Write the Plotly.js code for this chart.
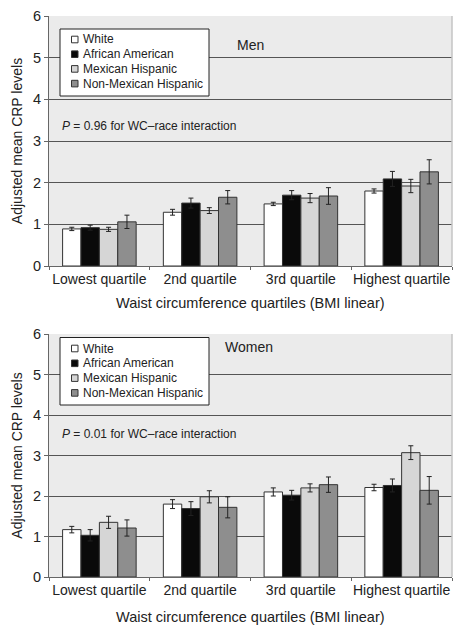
<!DOCTYPE html>
<html>
<head>
<meta charset="utf-8">
<script src="https://cdn.plot.ly/plotly-3.0.1.min.js"></script>
<style>html,body{margin:0;padding:0;background:#fff;}#chart{width:464px;height:635px;}</style>
</head>
<body>
<div id="chart"></div>
<script>
const categories = ['Lowest quartile', '2nd quartile', '3rd quartile', 'Highest quartile'];
const races = ['White', 'African American', 'Mexican Hispanic', 'Non-Mexican Hispanic'];
const raceColors = ['#ffffff', '#0a0a0a', '#d6d6d6', '#8e8e8e'];

// Men: adjusted mean CRP and error (±)
const menWhite = [0.89, 1.29, 1.49, 1.80];
const menWhiteErr = [0.04, 0.07, 0.04, 0.05];
const menAfrican = [0.92, 1.51, 1.70, 2.09];
const menAfricanErr = [0.06, 0.12, 0.11, 0.18];
const menMexican = [0.88, 1.33, 1.63, 1.92];
const menMexicanErr = [0.05, 0.07, 0.11, 0.16];
const menNonMexican = [1.06, 1.65, 1.68, 2.26];
const menNonMexicanErr = [0.16, 0.16, 0.20, 0.29];

// Women
const womenWhite = [1.17, 1.80, 2.10, 2.21];
const womenWhiteErr = [0.08, 0.11, 0.10, 0.08];
const womenAfrican = [1.03, 1.69, 2.02, 2.26];
const womenAfricanErr = [0.14, 0.17, 0.12, 0.16];
const womenMexican = [1.35, 1.98, 2.20, 3.07];
const womenMexicanErr = [0.15, 0.15, 0.10, 0.17];
const womenNonMexican = [1.21, 1.72, 2.28, 2.14];
const womenNonMexicanErr = [0.20, 0.26, 0.19, 0.34];

const menSeries = [[menWhite, menWhiteErr], [menAfrican, menAfricanErr], [menMexican, menMexicanErr], [menNonMexican, menNonMexicanErr]];
const womenSeries = [[womenWhite, womenWhiteErr], [womenAfrican, womenAfricanErr], [womenMexican, womenMexicanErr], [womenNonMexican, womenNonMexicanErr]];

const FONT = 'Liberation Sans, Arial, Helvetica, sans-serif';
const W = 464, H = 635;
const M = {l: 49, r: 12, t: 16, b: 58};
const PW = W - M.l - M.r, PH = H - M.t - M.b;
const px2x = p => (p - M.l) / PW;
const px2y = p => (H - M.b - p) / PH;

function makeTraces(series, xa, ya) {
  return series.map((s, i) => ({
    type: 'bar',
    name: races[i],
    x: categories,
    y: s[0],
    xaxis: xa,
    yaxis: ya,
    showlegend: false,
    marker: {color: raceColors[i], line: {color: '#333333', width: 1}},
    error_y: {type: 'data', array: s[1], visible: true, color: '#222222', thickness: 1, width: 2.5},
    hoverinfo: 'x+y+name'
  }));
}

const data = makeTraces(menSeries, 'x', 'y').concat(makeTraces(womenSeries, 'x2', 'y2'));

const xCommon = {
  type: 'category',
  tickfont: {family: FONT, size: 14, color: '#222'},
  tickangle: 0,
  showline: true, linecolor: '#666', linewidth: 1,
  ticks: 'outside', ticklen: 3, tickcolor: '#666', tickson: 'boundaries',
  showgrid: false, zeroline: false, fixedrange: true
};
const yCommon = {
  range: [0, 6], dtick: 1, tick0: 0,
  tickfont: {family: FONT, size: 14.5, color: '#222'},
  showline: true, linecolor: '#666', linewidth: 1,
  ticks: 'outside', ticklen: 4, tickcolor: '#666',
  showgrid: true, gridcolor: '#555555', gridwidth: 1,
  zeroline: false, fixedrange: true
};

const yTitle = {text: 'Adjusted mean CRP levels', font: {family: FONT, size: 14, color: '#222'}, standoff: 7};
const xTitleText = 'Waist circumference quartiles (BMI linear)';

// custom legends (pixel layout -> paper coords)
const shapes = [
  {type: 'line', xref: 'paper', yref: 'y domain', x0: 1, x1: 1, y0: 0, y1: 1, line: {color: '#c4c4c4', width: 1.5}},
  {type: 'line', xref: 'paper', yref: 'y2 domain', x0: 1, x1: 1, y0: 0, y1: 1, line: {color: '#c4c4c4', width: 1.5}}
];
const annotations = [
  {text: 'Men', xref: 'paper', yref: 'y', x: px2x(250), y: 5.3, showarrow: false, font: {family: FONT, size: 14, color: '#222'}},
  {text: '<i>P</i> = 0.96 for WC–race interaction', xref: 'paper', yref: 'y', x: px2x(60), y: 3.36, xanchor: 'left', showarrow: false, font: {family: FONT, size: 12, color: '#222'}},
  {text: 'Women', xref: 'paper', yref: 'y2', x: px2x(249), y: 5.69, showarrow: false, font: {family: FONT, size: 14, color: '#222'}},
  {text: '<i>P</i> = 0.01 for WC–race interaction', xref: 'paper', yref: 'y2', x: px2x(60), y: 3.52, xanchor: 'left', showarrow: false, font: {family: FONT, size: 12, color: '#222'}},
  {text: xTitleText, xref: 'paper', yref: 'paper', x: px2x(250), y: px2y(303), yanchor: 'middle', showarrow: false, font: {family: FONT, size: 14.5, color: '#222'}},
  {text: xTitleText, xref: 'paper', yref: 'paper', x: px2x(250), y: px2y(617), yanchor: 'middle', showarrow: false, font: {family: FONT, size: 14.5, color: '#222'}}
];

function addLegend(top, bottom, firstItem, step) {
  shapes.push({type: 'rect', xref: 'paper', yref: 'paper', x0: px2x(60), x1: px2x(209), y0: px2y(bottom), y1: px2y(top),
    fillcolor: '#ffffff', line: {color: '#222', width: 1}, layer: 'above'});
  races.forEach((r, i) => {
    const cy = firstItem + i * step;
    shapes.push({type: 'rect', xref: 'paper', yref: 'paper', x0: px2x(71.5), x1: px2x(78), y0: px2y(cy + 3.3), y1: px2y(cy - 3.3),
      fillcolor: raceColors[i], line: {color: '#333', width: 1}, layer: 'above'});
    annotations.push({text: r, xref: 'paper', yref: 'paper', x: px2x(81), y: px2y(cy), xanchor: 'left', yanchor: 'middle',
      showarrow: false, font: {family: FONT, size: 12, color: '#222'}});
  });
}
addLegend(29, 96, 39.5, 14.7);
addLegend(337.5, 405, 348.5, 14.8);

const layout = {
  width: W, height: H,
  margin: M,
  paper_bgcolor: '#ffffff',
  plot_bgcolor: '#ebebeb',
  barmode: 'group', bargap: 0.27, bargroupgap: 0,
  showlegend: false,
  xaxis: Object.assign({}, xCommon, {anchor: 'y', domain: [0, 1]}),
  yaxis: Object.assign({}, yCommon, {anchor: 'x', domain: [px2y(266), 1], title: yTitle}),
  xaxis2: Object.assign({}, xCommon, {anchor: 'y2', domain: [0, 1]}),
  yaxis2: Object.assign({}, yCommon, {anchor: 'x2', domain: [0, px2y(334)], title: yTitle}),
  annotations: annotations,
  shapes: shapes
};

Plotly.newPlot('chart', data, layout, {displayModeBar: false, staticPlot: true});
</script>
</body>
</html>
